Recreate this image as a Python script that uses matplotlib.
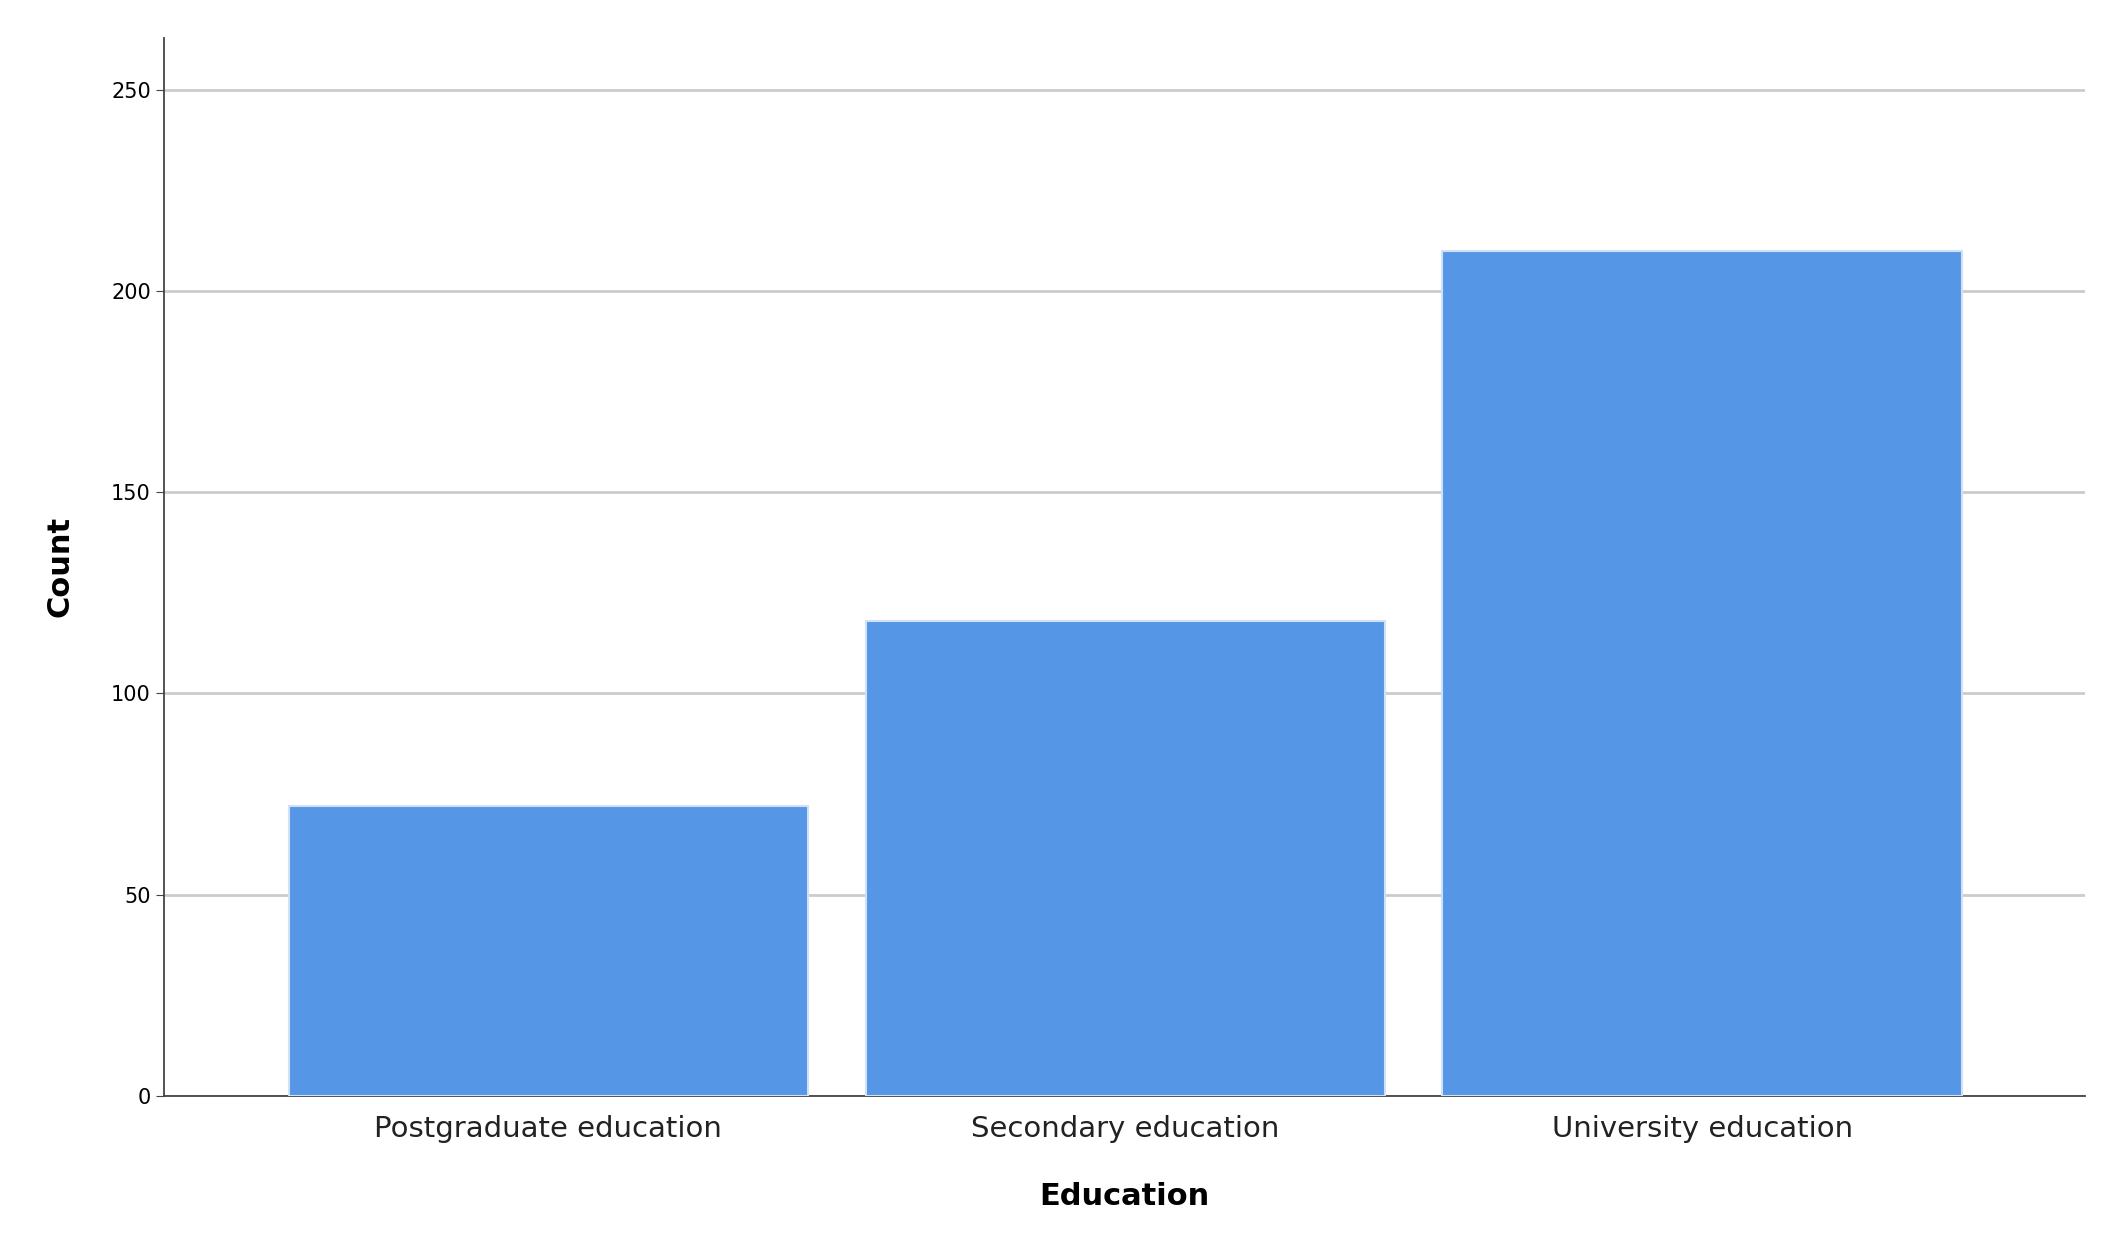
import matplotlib
matplotlib.use("Agg")
import matplotlib.pyplot as plt

categories = ["Postgraduate education", "Secondary education", "University education"]
counts = [72, 118, 210]
yticks = [0, 50, 100, 150, 200, 250]

fig = plt.figure(figsize=(21.02, 12.51), dpi=100)
ax = fig.add_axes([0.078, 0.124, 0.914, 0.846])
x = range(len(categories))
ax.bar(x, counts, width=0.9, color="#5596E6", edgecolor="#D0E0F5", linewidth=1.5, zorder=3)
ax.set_xlim(-0.666, 2.664)
ax.set_ylim(0, 263)
ax.set_yticks(yticks)
ax.set_xticks(list(x))
ax.set_xticklabels(categories, fontsize=21, color="#222222")
ax.tick_params(axis="y", labelsize=15, length=6, color="#444444")
ax.tick_params(axis="x", length=0, pad=14)
ax.yaxis.grid(True, color="#CCCCCC", linewidth=2, zorder=0)
for s in ["top", "right"]:
    ax.spines[s].set_visible(False)
for s in ["left", "bottom"]:
    ax.spines[s].set_color("#444444")
    ax.spines[s].set_linewidth(1.3)
ax.set_xlabel("Education", fontsize=22, fontweight="bold", labelpad=28)
ax.set_ylabel("Count", fontsize=22, fontweight="bold", labelpad=26)
fig.savefig("out.png", dpi=100)
